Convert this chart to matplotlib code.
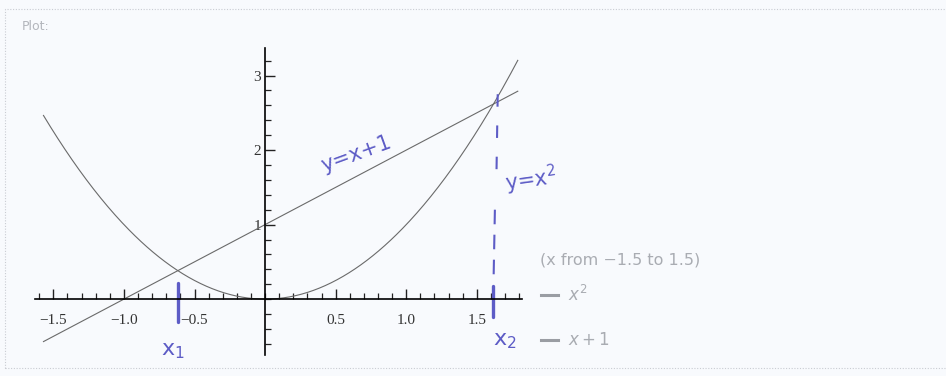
import numpy as np
import matplotlib
matplotlib.use("Agg")
import matplotlib.pyplot as plt
from matplotlib.patches import Rectangle
from matplotlib.ticker import MultipleLocator, FixedLocator

# plotted functions and the sampled domain
x_lo, x_hi = -1.57, 1.79
curve_labels = ["$x^2$", "$x+1$"]
x_major = [-1.5, -1.0, -0.5, 0.5, 1.0, 1.5]
x_major_labels = ["\u22121.5", "\u22121.0", "\u22120.5", "0.5", "1.0", "1.5"]
y_major = [1, 2, 3]

# intersection points marked by hand
x1, x2 = -0.618, 1.618

INK = "#5d5cc6"
GREY = "#6a6a6a"
W, H = 946, 376

fig = plt.figure(figsize=(W / 100, H / 100), dpi=100, facecolor="#f8fafd")

# page frame (dotted, light)
fig.patches.append(Rectangle((5 / W, 1 - 368 / H), 1.0, (368 - 9) / H,
                             transform=fig.transFigure, fill=False,
                             edgecolor="#c9ccd2", lw=0.8, ls=(0, (1, 1.5))))
fig.text(22 / W, 1 - 27 / H, "Plot:", fontsize=9, color="#b3b6bc",
         va="center", ha="left")

ax = fig.add_axes([35 / W, 1 - 355 / H, 487 / W, 307 / H])
ax.set_facecolor("none")
ax.set_xlim(-1.63, 1.82)
ax.set_ylim(-0.75, 3.37)

x = np.linspace(x_lo, x_hi, 400)
ax.plot(x, x ** 2, color=GREY, lw=0.8)
ax.plot(x, x + 1, color=GREY, lw=0.8)

for s in ("top", "right"):
    ax.spines[s].set_visible(False)
ax.spines["left"].set_position(("data", 0))
ax.spines["bottom"].set_position(("data", 0))
ax.spines["left"].set_linewidth(1.2)
ax.spines["bottom"].set_linewidth(1.2)

ax.xaxis.set_major_locator(FixedLocator(x_major))
ax.set_xticklabels(x_major_labels)
ax.xaxis.set_minor_locator(MultipleLocator(0.1))
ax.yaxis.set_major_locator(FixedLocator(y_major))
ax.yaxis.set_minor_locator(MultipleLocator(0.2))
ax.tick_params(which="major", direction="in", length=7, width=1.0,
               color="#222222", labelsize=11, labelcolor="#333333")
ax.tick_params(which="minor", direction="in", length=4, width=0.9,
               color="#222222")
for lab in ax.get_xticklabels() + ax.get_yticklabels():
    lab.set_fontfamily("Liberation Serif")
ax.tick_params(axis="x", pad=11)
ax.tick_params(axis="y", pad=3)

# hand-drawn marks at the intersections
ax.plot([x1, x1], [0.22, -0.31], color=INK, lw=2.4, solid_capstyle="round")
ax.plot([x2 + 0.03, x2 + 0.02], [2.75, 1.55], color=INK, lw=1.5,
        ls=(0, (6, 9)))
ax.plot([x2 + 0.01, x2], [1.2, 0.2], color=INK, lw=1.5, ls=(0, (7, 5)))
ax.plot([x2, x2], [0.18, -0.24], color=INK, lw=2.4, solid_capstyle="round")

hand = dict(color=INK, family="DejaVu Sans")
ax.text(0.65, 1.95, "y=x+1", fontsize=15, rotation=20, ha="center",
        va="center", **hand)
ax.text(1.88, 1.6, "y=x$^2$", fontsize=15, rotation=8, ha="center",
        va="center", **hand)
ax.text(-0.65, -0.7, "x$_1$", fontsize=16, ha="center", va="center", **hand)
ax.text(1.70, -0.56, "x$_2$", fontsize=16, ha="center", va="center",
        clip_on=False, **hand)

# legend block at the right
LEG = "#a9acb2"
fig.text(540 / W, 1 - 260 / H, "(x from \u22121.5 to 1.5)", fontsize=11.5,
         color=LEG, va="center", ha="left")
for yy, lab in zip([295, 340], curve_labels):
    fig.lines.append(plt.Line2D([541 / W, 558 / W], [1 - yy / H, 1 - yy / H],
                                transform=fig.transFigure, color="#9a9da3",
                                lw=2.2))
    fig.text(568 / W, 1 - yy / H, lab, fontsize=12, color=LEG,
             va="center", ha="left")

fig.savefig("out.png", dpi=100, facecolor=fig.get_facecolor())
